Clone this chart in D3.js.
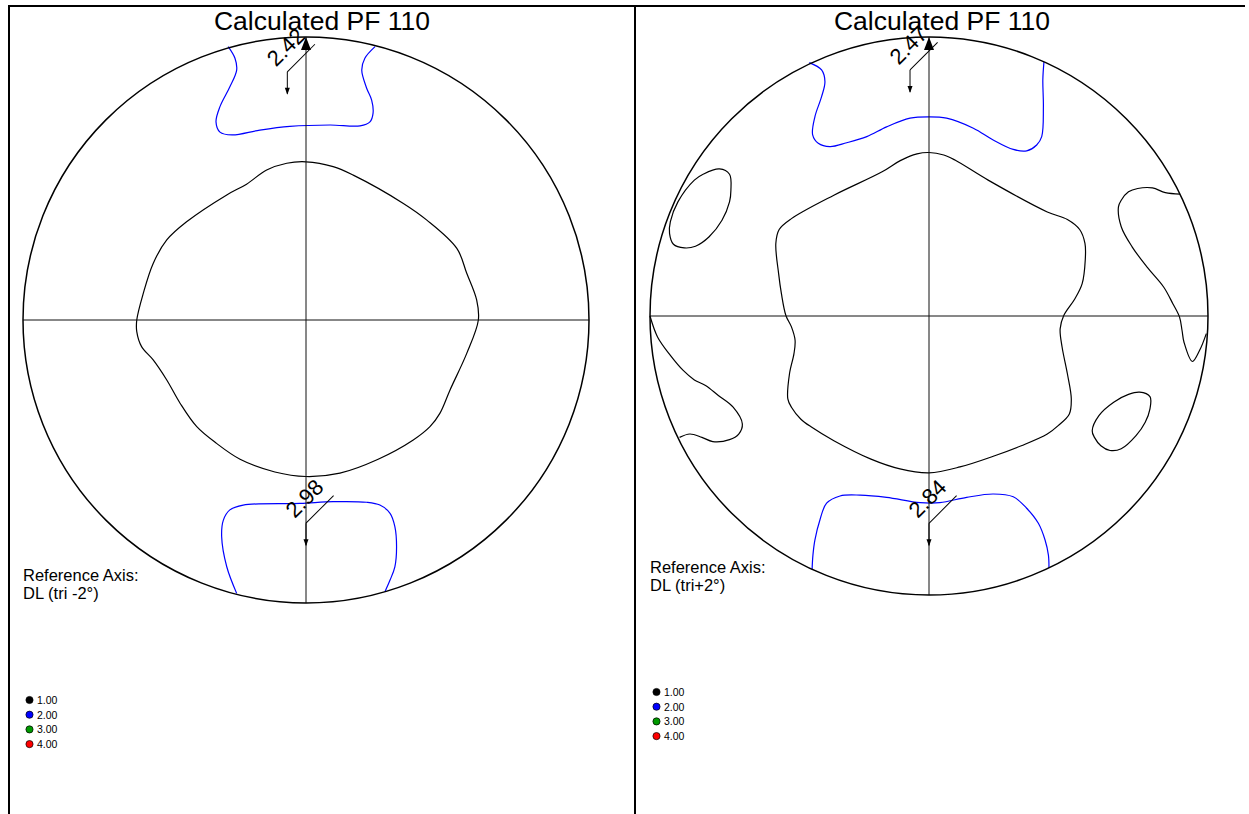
<!DOCTYPE html>
<html>
<head>
<meta charset="utf-8">
<script src="https://cdn.jsdelivr.net/npm/d3@7"></script>
<style>
  html, body { margin: 0; padding: 0; background: #fff; }
  svg { display: block; font-family: "Liberation Sans", Arial, Helvetica, sans-serif; }
</style>
</head>
<body>
<svg id="chart" width="1249" height="814"></svg>
<script>
// ---- Contour levels and legend ----
const levels = [1, 2, 3, 4];
const levelLabels = ["1.00", "2.00", "3.00", "4.00"];

// ---- Panel texts ----
const titles = ["Calculated PF 110", "Calculated PF 110"];
const referenceAxes = ["DL (tri -2°)", "DL (tri+2°)"];

// ---- Contours, in projection units (unit circle, y pointing up) ----
// Left pole figure, level 1 (central closed ring)
const leftLevel1Centre = [
  [0, 0.559], [0.096, 0.542], [0.167, 0.512], [0.344, 0.412], [0.427, 0.353],
  [0.533, 0.253], [0.568, 0.165], [0.603, 0.071], [0.609, 0], [0.568, -0.118],
  [0.509, -0.247], [0.473, -0.330], [0.438, -0.377], [0.379, -0.424], [0.255, -0.492],
  [0.120, -0.541], [0, -0.553], [-0.110, -0.537], [-0.233, -0.492], [-0.316, -0.436],
  [-0.386, -0.377], [-0.445, -0.294], [-0.492, -0.212], [-0.540, -0.141], [-0.581, -0.094],
  [-0.598, -0.041], [-0.598, 0], [-0.575, 0.094], [-0.540, 0.200], [-0.492, 0.283],
  [-0.422, 0.347], [-0.280, 0.442], [-0.210, 0.480], [-0.139, 0.530], [-0.068, 0.554]
];
// Left pole figure, level 2 (open lines meeting the rim)
const leftLevel2Top = [
  [-0.275, 0.966], [-0.251, 0.925], [-0.245, 0.883], [-0.269, 0.824], [-0.304, 0.754],
  [-0.318, 0.700], [-0.304, 0.664], [-0.261, 0.654], [-0.163, 0.671], [-0.057, 0.684],
  [0.085, 0.689], [0.191, 0.686], [0.226, 0.700], [0.237, 0.731], [0.232, 0.777],
  [0.214, 0.820], [0.197, 0.883], [0.208, 0.925], [0.244, 0.966]
];
const leftLevel2Bottom = [
  [-0.245, -0.966], [-0.280, -0.872], [-0.298, -0.766], [-0.292, -0.707], [-0.269, -0.671],
  [-0.222, -0.654], [-0.021, -0.648], [0.096, -0.642], [0.214, -0.644], [0.261, -0.654],
  [0.297, -0.683], [0.314, -0.730], [0.320, -0.801], [0.314, -0.872], [0.297, -0.919],
  [0.279, -0.960]
];

// Right pole figure, level 1
const rightLevel1Centre = [
  [0, 0.586], [0.053, 0.577], [0.093, 0.559], [0.212, 0.487], [0.424, 0.373],
  [0.496, 0.346], [0.540, 0.310], [0.559, 0.260], [0.560, 0.200], [0.549, 0.116],
  [0.523, 0.062], [0.483, 0.002], [0.470, -0.046], [0.477, -0.111], [0.496, -0.207],
  [0.510, -0.297], [0.503, -0.351], [0.463, -0.393], [0.424, -0.423], [0.331, -0.465],
  [0.238, -0.500], [0.111, -0.541], [0, -0.562], [-0.104, -0.548], [-0.208, -0.513],
  [-0.341, -0.447], [-0.420, -0.399], [-0.460, -0.369], [-0.493, -0.327], [-0.506, -0.297],
  [-0.500, -0.207], [-0.484, -0.135], [-0.480, -0.087], [-0.493, -0.039], [-0.513, 0.002],
  [-0.529, 0.080], [-0.539, 0.152], [-0.549, 0.260], [-0.537, 0.310], [-0.493, 0.349],
  [-0.341, 0.433], [-0.168, 0.517], [-0.103, 0.557], [-0.043, 0.581]
];
const rightLevel1UpperLeft = [
  [-0.751, 0.527], [-0.715, 0.508], [-0.710, 0.451], [-0.715, 0.409], [-0.742, 0.343],
  [-0.788, 0.284], [-0.837, 0.250], [-0.877, 0.244], [-0.916, 0.257], [-0.930, 0.296],
  [-0.927, 0.338], [-0.900, 0.409], [-0.841, 0.487], [-0.808, 0.509]
];
const rightLevel1UpperRight = [
  [0.900, 0.437], [0.847, 0.442], [0.801, 0.459], [0.748, 0.457], [0.715, 0.445],
  [0.689, 0.415], [0.679, 0.391], [0.689, 0.320], [0.728, 0.248], [0.781, 0.176],
  [0.841, 0.104], [0.874, 0.044], [0.898, -0.004], [0.907, -0.052], [0.914, -0.094],
  [0.944, -0.163], [0.970, -0.123], [0.994, -0.063]
];
const rightLevel1LowerLeft = [
  [-1.000, 0], [-0.973, -0.075], [-0.927, -0.141], [-0.881, -0.195], [-0.841, -0.229],
  [-0.801, -0.249], [-0.755, -0.285], [-0.702, -0.327], [-0.669, -0.387], [-0.682, -0.423],
  [-0.715, -0.443], [-0.775, -0.450], [-0.814, -0.435], [-0.857, -0.423], [-0.894, -0.435]
];
const rightLevel1LowerRight = [
  [0.755, -0.273], [0.792, -0.289], [0.792, -0.333], [0.775, -0.381], [0.742, -0.429],
  [0.689, -0.476], [0.649, -0.482], [0.616, -0.465], [0.593, -0.435], [0.585, -0.411],
  [0.609, -0.357], [0.662, -0.309], [0.715, -0.281]
];
// Right pole figure, level 2
const rightLevel2Top = [
  [-0.429, 0.908], [-0.385, 0.882], [-0.373, 0.840], [-0.385, 0.786], [-0.409, 0.714],
  [-0.417, 0.649], [-0.397, 0.619], [-0.355, 0.607], [-0.295, 0.621], [-0.223, 0.643],
  [-0.152, 0.678], [-0.068, 0.709], [0, 0.714], [0.063, 0.709], [0.159, 0.673],
  [0.230, 0.631], [0.302, 0.597], [0.350, 0.592], [0.386, 0.613], [0.404, 0.643],
  [0.410, 0.750], [0.408, 0.846], [0.412, 0.911]
];
const rightLevel2Bottom = [
  [-0.419, -0.908], [-0.416, -0.857], [-0.409, -0.803], [-0.391, -0.731], [-0.367, -0.671],
  [-0.319, -0.645], [-0.247, -0.642], [-0.152, -0.650], [-0.032, -0.669], [0.039, -0.669],
  [0.135, -0.650], [0.230, -0.638], [0.302, -0.648], [0.350, -0.689], [0.392, -0.743],
  [0.416, -0.803], [0.428, -0.857], [0.430, -0.903]
];

// ---- Maximum annotations (value and leader origin in projection units) ----
const leftPeaks = [
  { value: "2.42", x: -0.066, y: 0.877 },
  { value: "2.98", x: 0, y: -0.718 }
];
const rightPeaks = [
  { value: "2.47", x: -0.068, y: 0.882 },
  { value: "2.84", x: 0, y: -0.743 }
];
// Reference direction marker on the rim
const poleMarker = [0, 1];

// ---- Assemble panel descriptions ----
const panels = [
  {
    title: titles[0], reference: referenceAxes[0], peaks: leftPeaks,
    contours: [
      { level: 1, closed: true, pts: leftLevel1Centre },
      { level: 2, closed: false, pts: leftLevel2Top },
      { level: 2, closed: false, pts: leftLevel2Bottom }
    ],
    layout: { cx: 306, cy: 320, r: 283, titleX: 322 }
  },
  {
    title: titles[1], reference: referenceAxes[1], peaks: rightPeaks,
    contours: [
      { level: 1, closed: true, pts: rightLevel1Centre },
      { level: 1, closed: true, pts: rightLevel1UpperLeft },
      { level: 1, closed: false, pts: rightLevel1UpperRight },
      { level: 1, closed: false, pts: rightLevel1LowerLeft },
      { level: 1, closed: true, pts: rightLevel1LowerRight },
      { level: 2, closed: false, pts: rightLevel2Top },
      { level: 2, closed: false, pts: rightLevel2Bottom }
    ],
    layout: { cx: 929, cy: 316, r: 279, titleX: 942 }
  }
];

const levelColor = d3.scaleOrdinal()
  .domain(levels)
  .range(["#000000", "#0000ff", "#009a00", "#ff0000"]);

const svg = d3.select("#chart");

// Page frame
const frame = svg.append("g").attr("stroke", "#000").attr("stroke-width", 2);
frame.append("line").attr("x1", 8).attr("x2", 1245).attr("y1", 6).attr("y2", 6);
frame.append("line").attr("x1", 9).attr("x2", 9).attr("y1", 5).attr("y2", 814);
frame.append("line").attr("x1", 635).attr("x2", 635).attr("y1", 5).attr("y2", 814);

panels.forEach(p => {
  const { cx, cy, r, titleX } = p.layout;
  const x = d3.scaleLinear().domain([-1, 1]).range([cx - r, cx + r]);
  const y = d3.scaleLinear().domain([-1, 1]).range([cy + r, cy - r]);
  const g = svg.append("g");

  // Title
  g.append("text")
    .attr("x", titleX).attr("y", 30)
    .attr("text-anchor", "middle")
    .attr("font-size", 26.5)
    .attr("fill", "#000")
    .text(p.title);

  // Contour lines
  const openLine = d3.line().x(d => x(d[0])).y(d => y(d[1])).curve(d3.curveCatmullRom.alpha(0.5));
  const closedLine = d3.line().x(d => x(d[0])).y(d => y(d[1])).curve(d3.curveCatmullRomClosed.alpha(0.5));
  g.selectAll("path.contour")
    .data(p.contours)
    .join("path")
    .attr("class", "contour")
    .attr("d", c => (c.closed ? closedLine : openLine)(c.pts))
    .attr("fill", "none")
    .attr("stroke", c => levelColor(c.level))
    .attr("stroke-width", 1.2);

  // Cross axes
  g.append("line")
    .attr("x1", x(-1)).attr("x2", x(1)).attr("y1", y(0)).attr("y2", y(0))
    .attr("stroke", "#111").attr("stroke-width", 1);
  g.append("line")
    .attr("x1", x(0)).attr("x2", x(0)).attr("y1", y(1)).attr("y2", y(-1))
    .attr("stroke", "#111").attr("stroke-width", 1);

  // Projection circle
  g.append("circle")
    .attr("cx", x(0)).attr("cy", y(0)).attr("r", x(1) - x(0))
    .attr("fill", "none").attr("stroke", "#000").attr("stroke-width", 1.5);

  // Maximum labels with leaders
  p.peaks.forEach(pk => {
    const a = g.append("g").attr("transform", `translate(${x(pk.x)},${y(pk.y)})`);
    a.append("line").attr("x1", 0).attr("y1", 0).attr("x2", 0).attr("y2", 22)
      .attr("stroke", "#000").attr("stroke-width", 1);
    a.append("path").attr("d", "M-2.5,16L2.5,16L0,23Z").attr("fill", "#000");
    const rot = a.append("g").attr("transform", "rotate(-45)");
    rot.append("line").attr("x1", 0).attr("y1", 0).attr("x2", 39).attr("y2", 0)
      .attr("stroke", "#000").attr("stroke-width", 1);
    rot.append("text").attr("x", -5).attr("y", -11)
      .attr("font-size", 22).attr("fill", "#000")
      .text(pk.value);
  });

  // Reference direction marker
  g.append("path")
    .attr("transform", `translate(${x(poleMarker[0])},${y(poleMarker[1])})`)
    .attr("d", "M0,0L-5,13L5,13Z")
    .attr("fill", "#000");

  // Reference axis note
  const note = g.append("text").attr("font-size", 16.5).attr("fill", "#000");
  note.append("tspan").attr("x", x(-1)).attr("y", y(-1) - 22).text("Reference Axis:");
  note.append("tspan").attr("x", x(-1)).attr("y", y(-1) - 4).text(p.reference);

  // Level legend
  const leg = g.append("g").attr("transform", `translate(${x(-1) + 6.5},${y(-1) + 97})`);
  const item = leg.selectAll("g").data(levels).join("g")
    .attr("transform", (d, i) => `translate(0,${i * 14.7})`);
  item.append("circle").attr("r", 3.6)
    .attr("fill", d => levelColor(d))
    .attr("stroke", "#000").attr("stroke-width", 0.7);
  item.append("text").attr("x", 7.5).attr("y", 3.8)
    .attr("font-size", 10.5).attr("fill", "#000")
    .text((d, i) => levelLabels[i]);
});
</script>
</body>
</html>
